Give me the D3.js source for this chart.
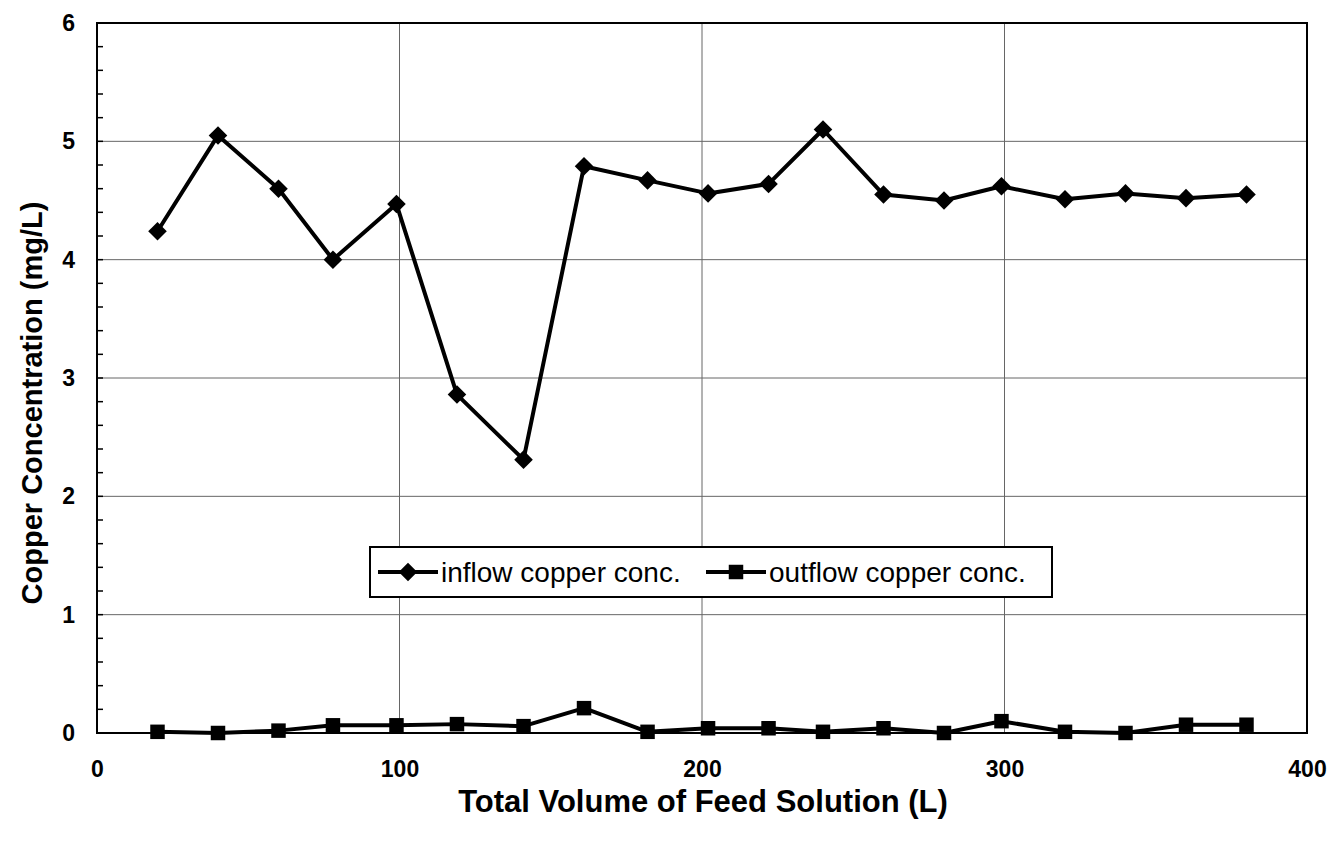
<!DOCTYPE html>
<html><head><meta charset="utf-8">
<script src="https://cdn.jsdelivr.net/npm/d3@7"></script>
<style>body{margin:0;background:#fff;} svg{display:block;}</style>
</head><body>
<svg id="c" width="1333" height="847"></svg>
<script>
const volumes = [20, 40, 60, 78, 99, 119, 141, 161, 182, 202, 222, 240, 260, 280, 299, 320, 340, 360, 380];
const inflow  = [4.24, 5.05, 4.60, 4.00, 4.47, 2.86, 2.31, 4.79, 4.67, 4.56, 4.64, 5.10, 4.55, 4.50, 4.62, 4.51, 4.56, 4.52, 4.55];
const outflow = [0.01, 0.00, 0.02, 0.065, 0.065, 0.075, 0.058, 0.21, 0.01, 0.04, 0.04, 0.01, 0.04, 0.00, 0.10, 0.01, 0.00, 0.07, 0.07];
const xTicks = [0, 100, 200, 300, 400];
const yTicks = [0, 1, 2, 3, 4, 5, 6];
const seriesNames = ["inflow copper conc.", "outflow copper conc."];
const xTitle = "Total Volume of Feed Solution (L)";
const yTitle = "Copper Concentration (mg/L)";

const svg = d3.select("#c");
const L = 97, R = 1307, T = 23, B = 733;
const x = d3.scaleLinear().domain([0, 400]).range([L, R]);
const y = d3.scaleLinear().domain([0, 6]).range([B, T]);
const font = "'Liberation Sans', Arial, sans-serif";

// gridlines
svg.append("g").selectAll("line").data(yTicks.filter(d => d > 0 && d < 6)).join("line")
  .attr("x1", L).attr("x2", R).attr("y1", d => y(d)).attr("y2", d => y(d))
  .attr("stroke", "#666").attr("stroke-width", 1);
svg.append("g").selectAll("line").data(xTicks.filter(d => d > 0 && d < 400)).join("line")
  .attr("y1", T).attr("y2", B).attr("x1", d => x(d)).attr("x2", d => x(d))
  .attr("stroke", "#666").attr("stroke-width", 1);

// minor y ticks (inward)
const minor = d3.range(0, 6.0001, 0.2);
svg.append("g").selectAll("line").data(minor).join("line")
  .attr("x1", L).attr("x2", L + 6).attr("y1", d => y(d)).attr("y2", d => y(d))
  .attr("stroke", "#000").attr("stroke-width", 1.5);

// frame
svg.append("rect").attr("x", L).attr("y", T).attr("width", R - L).attr("height", B - T)
  .attr("fill", "none").attr("stroke", "#000").attr("stroke-width", 2);

// axes labels via d3 axis
const yAxis = svg.append("g").attr("transform", `translate(${L},0)`)
  .call(d3.axisLeft(y).tickValues(yTicks).tickSize(0).tickPadding(22).tickFormat(d3.format("d")));
yAxis.select(".domain").remove();
yAxis.attr("font-size", null).attr("font-family", null);
yAxis.selectAll("text").style("font-family", font).style("font-size", "23px").style("font-weight", "bold").attr("fill", "#000");

const xAxis = svg.append("g").attr("transform", `translate(0,${B})`)
  .call(d3.axisBottom(x).tickValues(xTicks).tickSize(0).tickPadding(28).tickFormat(d3.format("d")));
xAxis.select(".domain").remove();
xAxis.attr("font-size", null).attr("font-family", null);
xAxis.selectAll("text").style("font-family", font).style("font-size", "23px").style("font-weight", "bold").attr("fill", "#000");

// titles
svg.append("text").attr("x", 703).attr("y", 812).attr("text-anchor", "middle")
  .style("font-family", font).style("font-size", "31px").style("font-weight", "bold").text(xTitle);
svg.append("text").attr("transform", `translate(42,403) rotate(-90)`).attr("text-anchor", "middle")
  .style("font-family", font).style("font-size", "29px").style("font-weight", "bold").text(yTitle);

// lines
const line = d3.line().x(d => x(d[0])).y(d => y(d[1]));
const inData = volumes.map((v, i) => [v, inflow[i]]);
const outData = volumes.map((v, i) => [v, outflow[i]]);
svg.append("path").datum(inData).attr("d", line).attr("fill", "none").attr("stroke", "#000").attr("stroke-width", 4).attr("stroke-linejoin", "round");
svg.append("path").datum(outData).attr("d", line).attr("fill", "none").attr("stroke", "#000").attr("stroke-width", 4).attr("stroke-linejoin", "round");

const diamond = d3.symbol().type(d3.symbolDiamond2).size(220);
const square = d3.symbol().type(d3.symbolSquare).size(210);
svg.append("g").selectAll("path").data(inData).join("path")
  .attr("transform", d => `translate(${x(d[0])},${y(d[1])})`).attr("d", diamond).attr("fill", "#000");
svg.append("g").selectAll("path").data(outData).join("path")
  .attr("transform", d => `translate(${x(d[0])},${y(d[1])})`).attr("d", square).attr("fill", "#000");

// legend
const lg = svg.append("g");
lg.append("rect").attr("x", 370).attr("y", 547).attr("width", 682).attr("height", 50)
  .attr("fill", "#fff").attr("stroke", "#000").attr("stroke-width", 2);
const items = [{name: seriesNames[0], sym: diamond, x0: 378}, {name: seriesNames[1], sym: square, x0: 706}];
items.forEach(it => {
  lg.append("line").attr("x1", it.x0).attr("x2", it.x0 + 60).attr("y1", 572).attr("y2", 572).attr("stroke", "#000").attr("stroke-width", 4);
  lg.append("path").attr("transform", `translate(${it.x0 + 30},572)`).attr("d", it.sym).attr("fill", "#000");
  lg.append("text").attr("x", it.x0 + 63).attr("y", 582).style("font-family", font).style("font-size", "28px")
    .attr("fill", "#000").text(it.name);
});
</script>
</body></html>
